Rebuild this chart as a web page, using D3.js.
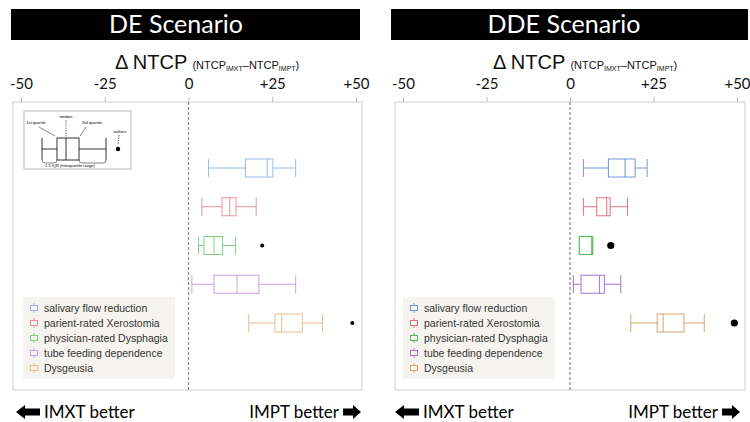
<!doctype html>
<html lang="en">
<head>
<meta charset="utf-8">
<script src="https://d3js.org/d3.v7.min.js"></script>
<style>
  body { margin: 0; background: #fff; }
  svg { display: block; }
</style>
</head>
<body>
<div id="chart"></div>
<script>
// outcome categories (top to bottom)
var categories = ["salivary flow reduction", "parient-rated Xerostomia", "physician-rated Dysphagia",
                  "tube feeding dependence", "Dysgeusia"];
var tickValues = [-50, -25, 0, 25, 50];
var tickLabels = ["-50", "-25", "0", "+25", "+50"];

// DE scenario: whiskers, quartiles, median, outliers
var deLow = [6, 4, 3, 1, 18];
var deQ1 = [17, 10, 4.6, 7.6, 25.8];
var deMed = [23.5, 12.3, 7.6, 14.5, 27.8];
var deQ3 = [25.2, 14.2, 10.2, 21, 34];
var deHigh = [32, 20.2, 14, 32, 40];
var deOut = [[], [], [22], [], [48.9]];

// DDE scenario
var ddeLow = [4, 4, 2.8, 1, 18.2];
var ddeQ1 = [11.5, 8, 2.8, 3.3, 26.1];
var ddeMed = [16.5, 11, 6.5, 8.8, 27.9];
var ddeQ3 = [19.5, 12, 6.8, 10.3, 34.1];
var ddeHigh = [23.1, 17.2, 6.8, 15.2, 40.2];
var ddeOut = [[], [], [12.2], [], [49.2]];

var deColors = ["#9db6e6", "#e3939f", "#82cf82", "#c8a0e8", "#ebbd90"];
var ddeColors = ["#7096d8", "#d97584", "#55b955", "#a874da", "#d9a56e"];

var svg = d3.select("#chart").append("svg")
    .attr("width", 750).attr("height", 422);

function rows(low, q1, med, q3, high, out) {
    return categories.map(function (c, i) {
        return { name: c, low: low[i], q1: q1[i], med: med[i], q3: q3[i], high: high[i], out: out[i], i: i };
    });
}

function drawPanel(p) {
    var g = svg.append("g");

    // black title bar
    g.append("rect").attr("x", p.barX0).attr("y", 9).attr("width", p.barX1 - p.barX0).attr("height", 31).attr("fill", "#000");
    g.append("text").attr("x", p.titleX).attr("y", 33).attr("text-anchor", "middle")
        .attr("fill", "#fff").style("font", "25px Lato, 'Open Sans', sans-serif").text(p.title);

    // axis title
    var t = g.append("text").attr("x", p.axisTitleX).attr("y", 69)
        .style("font-family", "'Liberation Sans', Arial, sans-serif").attr("fill", "#111");
    t.append("tspan").style("font-size", "20px").text("\u0394 NTCP ");
    t.append("tspan").style("font-size", "11px").text(" (NTCP");
    t.append("tspan").style("font-size", "7px").attr("dy", 2).text("IMXT");
    t.append("tspan").style("font-size", "11px").attr("dy", -2).text("\u2013NTCP");
    t.append("tspan").style("font-size", "7px").attr("dy", 2).text("IMPT");
    t.append("tspan").style("font-size", "11px").attr("dy", -2).text(")");

    var x = d3.scaleLinear().domain([-50, 50]).range([p.x0, p.x1]);
    var y = d3.scalePoint().domain(categories).range([168, 323]);

    // plot frame
    g.append("rect").attr("x", p.boxL).attr("y", 102).attr("width", p.boxR - p.boxL).attr("height", 288)
        .attr("fill", "none").attr("stroke", "#cfcfcf").attr("stroke-width", 1);

    var axis = g.append("g").attr("transform", "translate(0,102)")
        .call(d3.axisTop(x).tickValues(tickValues).tickFormat(function (d, i) { return tickLabels[i]; })
            .tickSize(5).tickPadding(8));
    axis.select(".domain").remove();
    axis.selectAll(".tick line").attr("stroke", "#bbb");
    axis.selectAll(".tick text").attr("fill", "#111")
        .style("font", "15px Lato, 'Open Sans', sans-serif");

    // zero reference line
    g.append("line").attr("x1", x(0)).attr("x2", x(0)).attr("y1", 102).attr("y2", 390)
        .attr("stroke", "#888").attr("stroke-width", 1.2).attr("stroke-dasharray", "3,2");

    var data = rows(p.low, p.q1, p.med, p.q3, p.high, p.out);
    var h = 9;
    var bx = g.selectAll(".bx").data(data).join("g").attr("class", "bx");
    bx.each(function (d) {
        var s = d3.select(this), c = p.colors[d.i], cy = y(d.name);
        s.append("line").attr("x1", x(d.low)).attr("x2", x(d.q1)).attr("y1", cy).attr("y2", cy).attr("stroke", c);
        s.append("line").attr("x1", x(d.q3)).attr("x2", x(d.high)).attr("y1", cy).attr("y2", cy).attr("stroke", c);
        s.append("line").attr("x1", x(d.low)).attr("x2", x(d.low)).attr("y1", cy - h).attr("y2", cy + h).attr("stroke", c);
        s.append("line").attr("x1", x(d.high)).attr("x2", x(d.high)).attr("y1", cy - h).attr("y2", cy + h).attr("stroke", c);
        s.append("rect").attr("x", x(d.q1)).attr("y", cy - h).attr("width", x(d.q3) - x(d.q1)).attr("height", 2 * h)
            .attr("fill", "#fff").attr("stroke", c);
        s.append("line").attr("x1", x(d.med)).attr("x2", x(d.med)).attr("y1", cy - h).attr("y2", cy + h).attr("stroke", c);
        s.selectAll("circle").data(d.out).join("circle")
            .attr("cx", function (v) { return x(v); }).attr("cy", cy).attr("r", p.outR).attr("fill", "#000");
    });

    // legend
    var lg = g.append("g");
    lg.append("rect").attr("x", p.legX).attr("y", 297).attr("width", 152).attr("height", 82).attr("fill", "#f6f4f0");
    categories.forEach(function (c, i) {
        var ly = 308 + i * 15, ix = p.legX + 11;
        lg.append("line").attr("x1", ix).attr("x2", ix).attr("y1", ly - 5).attr("y2", ly + 5).attr("stroke", p.colors[i]);
        lg.append("rect").attr("x", ix - 3.5).attr("y", ly - 2.5).attr("width", 7).attr("height", 5)
            .attr("fill", "#f6f4f0").attr("stroke", p.colors[i]);
        lg.append("text").attr("x", p.legX + 21).attr("y", ly + 3.5)
            .style("font", "10.5px 'Liberation Sans', Arial, sans-serif").attr("fill", "#333").text(c);
    });

    // bottom direction labels
    var bf = "17px Lato, 'Open Sans', sans-serif";
    g.append("path").attr("d", leftArrow(p.lArrowX, 412)).attr("fill", "#000");
    g.append("text").attr("x", p.lArrowX + 28).attr("y", 418).style("font", bf).text("IMXT better");
    g.append("text").attr("x", p.rTextX).attr("y", 418).attr("text-anchor", "end").style("font", bf).text("IMPT better");
    g.append("path").attr("d", rightArrow(p.rTextX + 4, 412)).attr("fill", "#000");
    return { x: x, g: g };
}

function leftArrow(x0, cy) {
    return "M" + x0 + "," + cy + "L" + (x0 + 9) + "," + (cy - 7) + "L" + (x0 + 9) + "," + (cy - 3.5) +
        "L" + (x0 + 24) + "," + (cy - 3.5) + "L" + (x0 + 24) + "," + (cy + 3.5) + "L" + (x0 + 9) + "," + (cy + 3.5) +
        "L" + (x0 + 9) + "," + (cy + 7) + "Z";
}
function rightArrow(x0, cy) {
    return "M" + (x0 + 18) + "," + cy + "L" + (x0 + 10) + "," + (cy - 7) + "L" + (x0 + 10) + "," + (cy - 3.5) +
        "L" + x0 + "," + (cy - 3.5) + "L" + x0 + "," + (cy + 3.5) + "L" + (x0 + 10) + "," + (cy + 3.5) +
        "L" + (x0 + 10) + "," + (cy + 7) + "Z";
}

var de = drawPanel({
    title: "DE Scenario", barX0: 11, barX1: 360, titleX: 176, axisTitleX: 115,
    x0: 21, x1: 356, boxL: 13, boxR: 362,
    low: deLow, q1: deQ1, med: deMed, q3: deQ3, high: deHigh, out: deOut,
    colors: deColors, outR: 2, legX: 23, lArrowX: 16, rTextX: 339
});

drawPanel({
    title: "DDE Scenario", barX0: 391, barX1: 748, titleX: 564, axisTitleX: 493,
    x0: 403, x1: 737, boxL: 395, boxR: 745,
    low: ddeLow, q1: ddeQ1, med: ddeMed, q3: ddeQ3, high: ddeHigh, out: ddeOut,
    colors: ddeColors, outR: 3.6, legX: 403, lArrowX: 395, rTextX: 718
});

// inset explaining box plot anatomy (DE panel)
var ins = svg.append("g");
ins.append("rect").attr("x", 24).attr("y", 111).attr("width", 107).attr("height", 58)
    .attr("fill", "#fff").attr("stroke", "#aaa").attr("stroke-width", 0.8);
var iy = 149, ih = 11;
ins.append("line").attr("x1", 42).attr("x2", 57).attr("y1", iy).attr("y2", iy).attr("stroke", "#333");
ins.append("line").attr("x1", 79).attr("x2", 106).attr("y1", iy).attr("y2", iy).attr("stroke", "#333");
ins.append("line").attr("x1", 42).attr("x2", 42).attr("y1", iy - ih).attr("y2", iy + ih).attr("stroke", "#333");
ins.append("line").attr("x1", 106).attr("x2", 106).attr("y1", iy - ih).attr("y2", iy + ih).attr("stroke", "#333");
ins.append("rect").attr("x", 57).attr("y", iy - ih).attr("width", 22).attr("height", 2 * ih).attr("fill", "none").attr("stroke", "#333");
ins.append("line").attr("x1", 66).attr("x2", 66).attr("y1", iy - ih).attr("y2", iy + ih).attr("stroke", "#333");
ins.append("circle").attr("cx", 118).attr("cy", iy).attr("r", 2.2).attr("fill", "#000");
ins.append("line").attr("x1", 39).attr("x2", 55).attr("y1", 127).attr("y2", 136).attr("stroke", "#333").attr("stroke-width", 0.6);
ins.append("line").attr("x1", 66).attr("x2", 66).attr("y1", 120).attr("y2", 137).attr("stroke", "#333").attr("stroke-width", 0.7).attr("stroke-dasharray", "1.5,1");
ins.append("line").attr("x1", 86).attr("x2", 80).attr("y1", 127).attr("y2", 136).attr("stroke", "#333").attr("stroke-width", 0.6);
ins.append("line").attr("x1", 119).attr("x2", 118).attr("y1", 135).attr("y2", 145).attr("stroke", "#333").attr("stroke-width", 0.8).attr("stroke-dasharray", "1.5,1");
var sf = "4px 'Liberation Sans', Arial, sans-serif";
ins.append("text").attr("x", 36).attr("y", 124).attr("text-anchor", "middle").style("font", sf).text("1st quartile");
ins.append("text").attr("x", 66).attr("y", 118).attr("text-anchor", "middle").style("font", sf).text("median");
ins.append("text").attr("x", 92).attr("y", 124).attr("text-anchor", "middle").style("font", sf).text("3rd quartile");
ins.append("text").attr("x", 120).attr("y", 133).attr("text-anchor", "middle").style("font", sf).text("outliers");
ins.append("path").attr("d", "M42,160 Q42,163 45,163 L54,163 Q57,163 57,160").attr("fill", "none").attr("stroke", "#333").attr("stroke-width", 0.6);
ins.append("path").attr("d", "M79,160 Q79,163 82,163 L103,163 Q106,163 106,160").attr("fill", "none").attr("stroke", "#333").attr("stroke-width", 0.6);
ins.append("text").attr("x", 70).attr("y", 167).attr("text-anchor", "middle").style("font", sf).text("1.5 IQR (interquartile range)");
</script>
</body>
</html>
